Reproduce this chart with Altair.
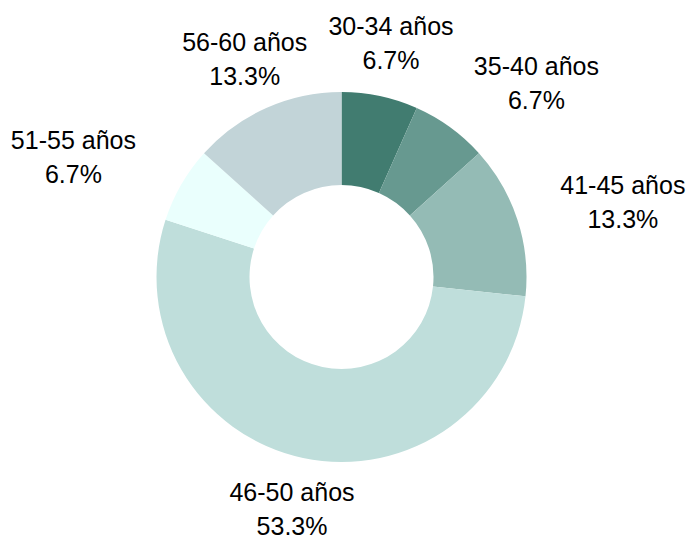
import altair as alt
import pandas as pd

categories = ["30-34 años", "35-40 años", "41-45 años", "46-50 años", "51-55 años", "56-60 años"]
counts = [1, 1, 2, 8, 1, 2]
colors = ["#417c70", "#679990", "#94bbb5", "#bfdedb", "#eafffd", "#c2d4d8"]

df = pd.DataFrame({"cat": categories, "count": counts, "idx": list(range(len(categories)))})

base = alt.Chart(df).transform_joinaggregate(
    total="sum(count)"
).transform_window(
    cum="sum(count)", sort=[alt.SortField("idx")], frame=[None, 0]
).transform_calculate(
    mid="(datum.cum - datum.count / 2) / datum.total",
    s="sin(2 * PI * (datum.cum - datum.count / 2) / datum.total)",
    txt="datum.cat + '\\n' + format(datum.count / datum.total, '.1%')",
)

arc = alt.Chart(df).mark_arc(outerRadius=185, innerRadius=92, stroke=None).encode(
    theta=alt.Theta("count:Q", stack=True),
    color=alt.Color("cat:N", scale=alt.Scale(domain=categories, range=colors), legend=None),
    order=alt.Order("idx:Q"),
)

def label_layer(cond, dx):
    return base.transform_filter(cond).mark_text(
        radius=238, align="center", baseline="middle", lineBreak="\n", dx=dx, dy=-17,
        font="Liberation Sans", fontSize=25, lineHeight=34, color="#000000",
    ).encode(
        theta=alt.Theta("mid:Q", scale=alt.Scale(domain=[0, 1], range=[0, 6.283185307179586]), stack=None),
        text="txt:N",
    )

labels_left = label_layer("datum.s > 0.5", 55)
labels_right = label_layer("datum.s < -0.5", -62)
labels_center = label_layer("abs(datum.s) <= 0.5", 0)

chart = alt.layer(arc, labels_left, labels_right, labels_center).resolve_scale(
    theta="independent"
).properties(
    width=667, height=500,
    autosize=alt.AutoSizeParams(type="none"),
    padding={"left": 0, "top": 19, "right": 12, "bottom": 10},
).configure_view(stroke=None)

chart.save("out.html", embed_options={"renderer": "svg", "actions": False})
